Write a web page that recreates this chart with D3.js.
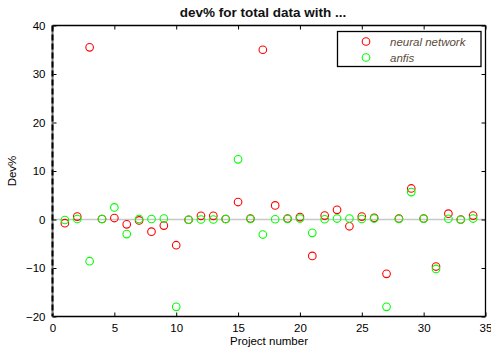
<!DOCTYPE html>
<html>
<head>
<meta charset="utf-8">
<script src="https://cdn.jsdelivr.net/npm/d3@7"></script>
<style>
  html, body { margin: 0; padding: 0; background: #fff; }
  svg { display: block; font-family: "Liberation Sans", Arial, sans-serif; }
</style>
</head>
<body>
<svg id="chart" width="491" height="350"></svg>
<script>
// Project numbers 1..34
const projects = [1,2,3,4,5,6,7,8,9,10,11,12,13,14,15,16,17,18,19,20,21,22,23,24,25,26,27,28,29,30,31,32,33,34];

// Deviation (%) of the neural network model per project
const neuralNetwork = [-0.75, 0.6, 35.5, 0.1, 0.3, -1.0, -0.2, -2.5, -1.25, -5.3,
  -0.05, 0.75, 0.75, 0.1, 3.6, 0.2, 35.0, 2.9, 0.2, 0.5,
  -7.5, 0.8, 2.0, -1.4, 0.6, 0.35, -11.2, 0.2, 6.4, 0.2,
  -9.7, 1.2, 0.0, 0.8];

// Deviation (%) of the ANFIS model per project
const anfis = [-0.1, 0.1, -8.6, 0.1, 2.5, -3.0, 0.1, 0.1, 0.2, -18.0,
  -0.05, 0.0, 0.0, 0.1, 12.4, 0.1, -3.1, 0.05, 0.1, 0.2,
  -2.75, 0.05, 0.2, 0.2, 0.1, 0.2, -18.0, 0.1, 5.65, 0.15,
  -10.2, 0.15, -0.05, 0.2];

const xTicks = [0, 5, 10, 15, 20, 25, 30, 35];
const yTicks = [-20, -10, 0, 10, 20, 30, 40];

const seriesNames = ["neural network", "anfis"];
const seriesColors = ["#ff0000", "#00ff00"];

const svg = d3.select("#chart");
const plotL = 52.5, plotR = 485.5, plotT = 25.5, plotB = 316.5;

const x = d3.scaleLinear().domain([0, 35]).range([plotL, plotR]);
const y = d3.scaleLinear().domain([-20, 40]).range([plotB, plotT]);

// zero reference line
svg.append("line")
  .attr("x1", x(0)).attr("x2", x(35))
  .attr("y1", y(0)).attr("y2", y(0))
  .attr("stroke", "#c8c8c8").attr("stroke-width", 1.5);

// axes (MATLAB style: ticks inward, box on all sides)
const tickLen = 4;
const axBottom = d3.axisBottom(x).tickValues(xTicks).tickSize(-tickLen).tickPadding(7).tickFormat(d3.format("d"));
const axLeft = d3.axisLeft(y).tickValues(yTicks).tickSize(-tickLen).tickPadding(7).tickFormat(d3.format("d"));
const axTop = d3.axisTop(x).tickValues(xTicks).tickSize(-tickLen).tickFormat("");
const axRight = d3.axisRight(y).tickValues(yTicks).tickSize(-tickLen).tickFormat("");

function styleAxis(g) {
  g.select(".domain").remove();
  g.selectAll(".tick line").attr("stroke", "#000");
  g.selectAll(".tick text").attr("fill", "#000").style("font-size", "11.5px")
    .style("font-family", "'Liberation Sans', Arial, sans-serif");
}

svg.append("g").attr("transform", `translate(0,${plotB})`).call(axBottom).call(styleAxis);
svg.append("g").attr("transform", `translate(${plotL},0)`).call(axLeft).call(styleAxis);
svg.append("g").attr("transform", `translate(0,${plotT})`).call(axTop).call(styleAxis);
svg.append("g").attr("transform", `translate(${plotR},0)`).call(axRight).call(styleAxis);

// frame
svg.append("line").attr("x1", plotL).attr("x2", plotR).attr("y1", plotB).attr("y2", plotB)
  .attr("stroke", "#000").attr("stroke-width", 1.5);
svg.append("line").attr("x1", plotL).attr("x2", plotR).attr("y1", plotT).attr("y2", plotT)
  .attr("stroke", "#000").attr("stroke-width", 1.3);
svg.append("line").attr("x1", plotR).attr("x2", plotR).attr("y1", plotT).attr("y2", plotB)
  .attr("stroke", "#000").attr("stroke-width", 1.3);
svg.append("line").attr("x1", plotL).attr("x2", plotL).attr("y1", plotT).attr("y2", plotB)
  .attr("stroke", "#777").attr("stroke-width", 2);
svg.append("line").attr("x1", plotL).attr("x2", plotL).attr("y1", plotT).attr("y2", plotB)
  .attr("stroke", "#000").attr("stroke-width", 2).attr("stroke-dasharray", "6,3");

// markers
const allSeries = [neuralNetwork, anfis];
allSeries.forEach((vals, i) => {
  svg.append("g").selectAll("circle")
    .data(projects.map((p, j) => ({ p, v: vals[j] })))
    .join("circle")
    .attr("cx", d => x(d.p))
    .attr("cy", d => y(d.v))
    .attr("r", 3.8)
    .attr("fill", "none")
    .attr("stroke", seriesColors[i])
    .attr("stroke-width", 1.1);
});

// title and axis labels
svg.append("text").attr("x", 263).attr("y", 17).attr("text-anchor", "middle")
  .style("font-weight", "bold").style("font-size", "13.5px").attr("fill", "#111")
  .text("dev% for total data with ...");
svg.append("text").attr("x", 269).attr("y", 345).attr("text-anchor", "middle")
  .style("font-size", "11.5px").attr("fill", "#000").text("Project number");
svg.append("text").attr("transform", `translate(16,${(plotT + plotB) / 2}) rotate(-90)`)
  .attr("text-anchor", "middle").style("font-size", "11.5px").attr("fill", "#000").text("Dev%");

// legend
const lg = svg.append("g");
lg.append("rect").attr("x", 337.5).attr("y", 31.5).attr("width", 143.5).attr("height", 35)
  .attr("fill", "#fff").attr("stroke", "#000").attr("stroke-width", 1.3);
seriesNames.forEach((name, i) => {
  const cy = 41.5 + i * 16;
  lg.append("circle").attr("cx", 366).attr("cy", cy).attr("r", 3.8)
    .attr("fill", "none").attr("stroke", seriesColors[i]).attr("stroke-width", 1.1);
  lg.append("text").attr("x", 390).attr("y", cy + 4)
    .style("font-style", "italic").style("font-size", "11.5px").attr("fill", "#5a4a3c")
    .text(name);
});
</script>
</body>
</html>
